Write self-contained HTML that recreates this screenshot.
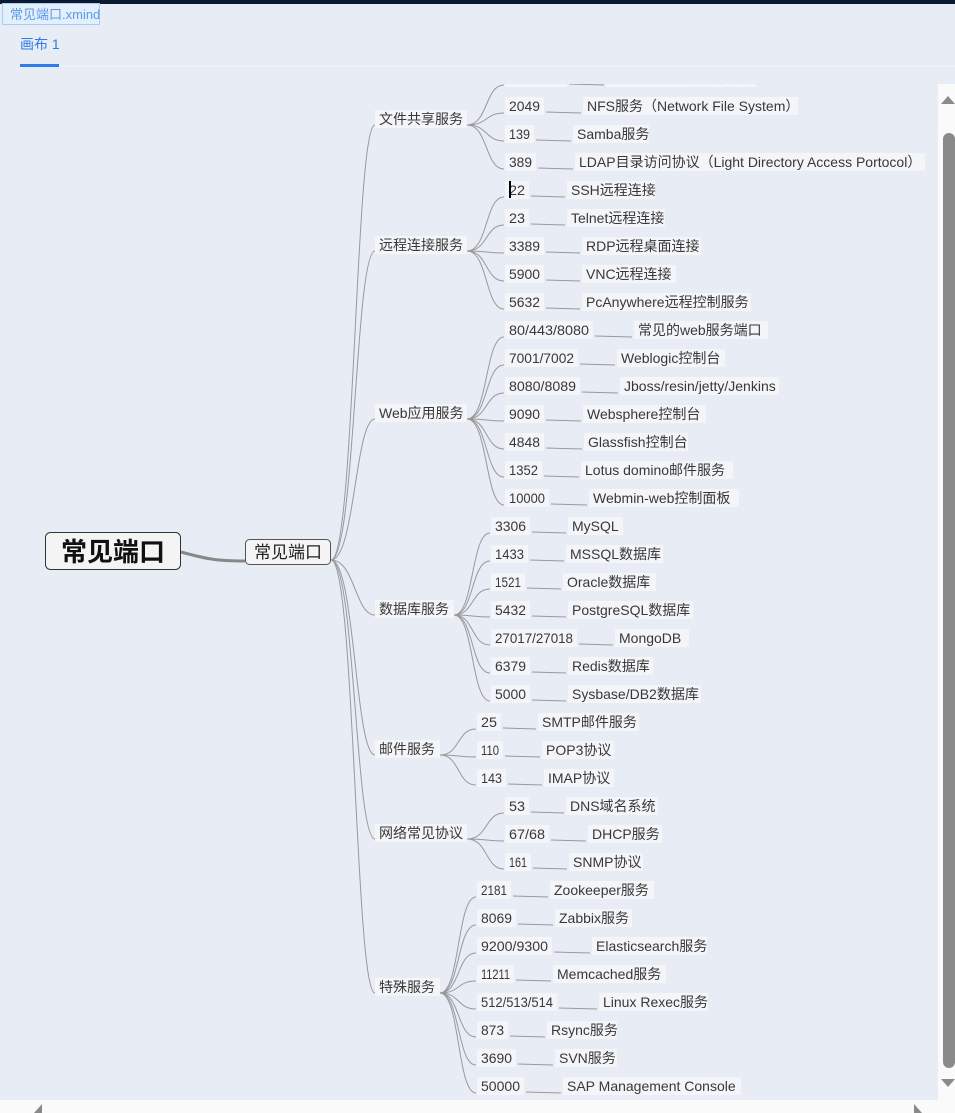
<!DOCTYPE html>
<html><head><meta charset="utf-8"><style>
html,body{margin:0;padding:0;width:955px;height:1113px;overflow:hidden;background:#e8ecf5;font-family:"Liberation Sans","Noto Sans CJK SC",sans-serif;}
</style></head><body>
<svg width="955" height="1113" xmlns="http://www.w3.org/2000/svg" style="position:absolute;left:0;top:0;font-family:'Liberation Sans','Noto Sans CJK SC',sans-serif">
<rect x="0" y="0" width="955" height="1113" fill="#e8ecf5"/>
<rect x="0" y="0" width="955" height="4" fill="#0b1a2e"/>
<rect x="2.5" y="3.5" width="97" height="21" fill="#e3effb" stroke="#a8cdf5"/>
<text x="10" y="19" font-size="13" fill="#5b9be6">常见端口.xmind</text>
<text x="20" y="49" font-size="14" fill="#2f7bea">画布 1</text>
<rect x="20" y="64" width="39" height="3" fill="#2f7bea"/>
<rect x="59" y="66" width="896" height="1" fill="#f2f3f6"/>
<svg x="0" y="84" width="938" height="1016" viewBox="0 84 938 1016" overflow="hidden">
<rect x="0" y="84" width="938" height="1016" fill="#e8ecf5"/>
<g fill="none" stroke="#999" stroke-width="1">
<path d="M181 552 C210 560,220 561,245 561" stroke="#888" stroke-width="3"/>
<path d="M331 560 C355 560,355 125,375 125"/>
<path d="M331 560 C355 560,355 251,375 251"/>
<path d="M331 560 C355 560,355 419,375 419"/>
<path d="M331 560 C355 560,355 615,375 615"/>
<path d="M331 560 C355 560,355 755,375 755"/>
<path d="M331 560 C355 560,355 839,375 839"/>
<path d="M331 560 C355 560,355 993,375 993"/>
<path d="M467 125 C488 125,485 85,504 85"/><path d="M467 125 C488 125,485 113,504 113"/><path d="M467 125 C488 125,485 141,504 141"/><path d="M467 125 C488 125,485 169,504 169"/>
<path d="M467 251 C488 251,485 197,504 197"/><path d="M467 251 C488 251,485 225,504 225"/><path d="M467 251 C488 251,485 253,504 253"/><path d="M467 251 C488 251,485 281,504 281"/><path d="M467 251 C488 251,485 309,504 309"/>
<path d="M467 419 C488 419,485 337,504 337"/><path d="M467 419 C488 419,485 365,504 365"/><path d="M467 419 C488 419,485 393,504 393"/><path d="M467 419 C488 419,485 421,504 421"/><path d="M467 419 C488 419,485 449,504 449"/><path d="M467 419 C488 419,485 477,504 477"/><path d="M467 419 C488 419,485 505,504 505"/>
<path d="M454 615 C474 615,471 533,490 533"/><path d="M454 615 C474 615,471 561,490 561"/><path d="M454 615 C474 615,471 589,490 589"/><path d="M454 615 C474 615,471 617,490 617"/><path d="M454 615 C474 615,471 645,490 645"/><path d="M454 615 C474 615,471 673,490 673"/><path d="M454 615 C474 615,471 701,490 701"/>
<path d="M440 755 C460 755,457 729,476 729"/><path d="M440 755 C460 755,457 757,476 757"/><path d="M440 755 C460 755,457 785,476 785"/>
<path d="M467 839 C488 839,485 813,504 813"/><path d="M467 839 C488 839,485 841,504 841"/><path d="M467 839 C488 839,485 869,504 869"/>
<path d="M440 993 C460 993,457 897,476 897"/><path d="M440 993 C460 993,457 925,476 925"/><path d="M440 993 C460 993,457 953,476 953"/><path d="M440 993 C460 993,457 981,476 981"/><path d="M440 993 C460 993,457 1009,476 1009"/><path d="M440 993 C460 993,457 1037,476 1037"/><path d="M440 993 C460 993,457 1065,476 1065"/><path d="M440 993 C460 993,457 1093,476 1093"/>
<path d="M569 84 L604 85M546 112 L581 113M536 140 L571 141M538 168 L573 169
M531 196 L565 197M531 224 L565 225M546 252 L580 253M546 280 L580 281M546 308 L580 309
M595 336 L632 337M580 364 L615 365M582 392 L618 393M546 420 L581 421M546 448 L582 449M544 476 L579 477M551 504 L587 505
M532 532 L566 533M530 560 L564 561M527 588 L561 589M532 616 L566 617M579 644 L613 645M532 672 L566 673M532 700 L566 701
M503 728 L536 729M505 756 L540 757M508 784 L542 785
M531 812 L564 813M551 840 L586 841M533 868 L567 869
M513 896 L548 897M518 924 L553 925M554 952 L590 953M516 980 L551 981M559 1008 L597 1009M510 1036 L545 1037M518 1064 L553 1065M526 1092 L561 1093"/>
</g>
<rect x="45.5" y="532.5" width="135" height="37" rx="5" fill="#f4f4f4" stroke="#333"/>
<text x="113" y="561" font-size="26" font-weight="bold" text-anchor="middle" fill="#111">常见端口</text>
<rect x="245.5" y="539.5" width="85" height="25" rx="4" fill="#f4f4f4" stroke="#555"/>
<text x="288" y="558" font-size="17" text-anchor="middle" fill="#222">常见端口</text>
<g fill="#f4f5f8">
<rect x="375" y="110" width="92" height="18"/><rect x="375" y="236" width="92" height="18"/><rect x="375" y="404" width="92" height="18"/><rect x="375" y="600" width="79" height="18"/><rect x="375" y="740" width="65" height="18"/><rect x="375" y="824" width="92" height="18"/><rect x="375" y="978" width="65" height="18"/>
<rect x="505" y="69" width="62" height="18"/><rect x="505" y="97" width="39" height="18"/><rect x="505" y="125" width="29" height="18"/><rect x="505" y="153" width="31" height="18"/>
<rect x="505" y="181" width="24" height="18"/><rect x="505" y="209" width="24" height="18"/><rect x="505" y="237" width="39" height="18"/><rect x="505" y="265" width="39" height="18"/><rect x="505" y="293" width="39" height="18"/>
<rect x="505" y="321" width="88" height="18"/><rect x="505" y="349" width="73" height="18"/><rect x="505" y="377" width="75" height="18"/><rect x="505" y="405" width="39" height="18"/><rect x="505" y="433" width="39" height="18"/><rect x="505" y="461" width="37" height="18"/><rect x="505" y="489" width="44" height="18"/>
<rect x="491" y="517" width="39" height="18"/><rect x="491" y="545" width="37" height="18"/><rect x="491" y="573" width="34" height="18"/><rect x="491" y="601" width="39" height="18"/><rect x="491" y="629" width="86" height="18"/><rect x="491" y="657" width="39" height="18"/><rect x="491" y="685" width="39" height="18"/>
<rect x="477" y="713" width="24" height="18"/><rect x="477" y="741" width="26" height="18"/><rect x="477" y="769" width="29" height="18"/>
<rect x="505" y="797" width="24" height="18"/><rect x="505" y="825" width="44" height="18"/><rect x="505" y="853" width="26" height="18"/>
<rect x="477" y="881" width="34" height="18"/><rect x="477" y="909" width="39" height="18"/><rect x="477" y="937" width="75" height="18"/><rect x="477" y="965" width="37" height="18"/><rect x="477" y="993" width="80" height="18"/><rect x="477" y="1021" width="31" height="18"/><rect x="477" y="1049" width="39" height="18"/><rect x="477" y="1077" width="47" height="18"/>
<rect x="606" y="69" width="150" height="18"/><rect x="583" y="97" width="215" height="18"/><rect x="573" y="125" width="76" height="18"/><rect x="575" y="153" width="350" height="18"/>
<rect x="567" y="181" width="88" height="18"/><rect x="567" y="209" width="98" height="18"/><rect x="582" y="237" width="119" height="18"/><rect x="582" y="265" width="94" height="18"/><rect x="582" y="293" width="169" height="18"/>
<rect x="634" y="321" width="134" height="18"/><rect x="617" y="349" width="108" height="18"/><rect x="620" y="377" width="159" height="18"/><rect x="583" y="405" width="123" height="18"/><rect x="584" y="433" width="104" height="18"/><rect x="581" y="461" width="152" height="18"/><rect x="589" y="489" width="150" height="18"/>
<rect x="568" y="517" width="55" height="18"/><rect x="566" y="545" width="97" height="18"/><rect x="563" y="573" width="93" height="18"/><rect x="568" y="601" width="125" height="18"/><rect x="615" y="629" width="74" height="18"/><rect x="568" y="657" width="85" height="18"/><rect x="568" y="685" width="133" height="18"/>
<rect x="538" y="713" width="101" height="18"/><rect x="542" y="741" width="72" height="18"/><rect x="544" y="769" width="70" height="18"/>
<rect x="566" y="797" width="92" height="18"/><rect x="588" y="825" width="74" height="18"/><rect x="569" y="853" width="74" height="18"/>
<rect x="550" y="881" width="104" height="18"/><rect x="555" y="909" width="77" height="18"/><rect x="592" y="937" width="115" height="18"/><rect x="553" y="965" width="113" height="18"/><rect x="599" y="993" width="109" height="18"/><rect x="547" y="1021" width="70" height="18"/><rect x="555" y="1049" width="62" height="18"/><rect x="563" y="1077" width="178" height="18"/>
</g>
<g font-size="14" fill="#383838">
<text x="379" y="124">文件共享服务</text><text x="379" y="250">远程连接服务</text><text x="379" y="418">Web应用服务</text><text x="379" y="614">数据库服务</text><text x="379" y="754">邮件服务</text><text x="379" y="838">网络常见协议</text><text x="379" y="992">特殊服务</text>
</g>
<g font-size="14" fill="#383838" lengthAdjust="spacingAndGlyphs">
<text x="509" y="83" textLength="54" lengthAdjust="spacingAndGlyphs">20/21/69</text><text x="610" y="83">FTP/TFTP文件传输协议</text>
<text x="509" y="111" textLength="31" lengthAdjust="spacingAndGlyphs">2049</text><text x="587" y="111">NFS服务（Network File System）</text>
<text x="509" y="139" textLength="21" lengthAdjust="spacingAndGlyphs">139</text><text x="577" y="139">Samba服务</text>
<text x="509" y="167" textLength="23" lengthAdjust="spacingAndGlyphs">389</text><text x="579" y="167">LDAP目录访问协议（Light Directory Access Portocol）</text>
<text x="509" y="195" textLength="16" lengthAdjust="spacingAndGlyphs">22</text><text x="571" y="195">SSH远程连接</text>
<text x="509" y="223" textLength="16" lengthAdjust="spacingAndGlyphs">23</text><text x="571" y="223">Telnet远程连接</text>
<text x="509" y="251" textLength="31" lengthAdjust="spacingAndGlyphs">3389</text><text x="586" y="251">RDP远程桌面连接</text>
<text x="509" y="279" textLength="31" lengthAdjust="spacingAndGlyphs">5900</text><text x="586" y="279">VNC远程连接</text>
<text x="509" y="307" textLength="31" lengthAdjust="spacingAndGlyphs">5632</text><text x="586" y="307">PcAnywhere远程控制服务</text>
<text x="509" y="335" textLength="80" lengthAdjust="spacingAndGlyphs">80/443/8080</text><text x="638" y="335">常见的web服务端口</text>
<text x="509" y="363" textLength="65" lengthAdjust="spacingAndGlyphs">7001/7002</text><text x="621" y="363">Weblogic控制台</text>
<text x="509" y="391" textLength="67" lengthAdjust="spacingAndGlyphs">8080/8089</text><text x="624" y="391">Jboss/resin/jetty/Jenkins</text>
<text x="509" y="419" textLength="31" lengthAdjust="spacingAndGlyphs">9090</text><text x="587" y="419">Websphere控制台</text>
<text x="509" y="447" textLength="31" lengthAdjust="spacingAndGlyphs">4848</text><text x="588" y="447">Glassfish控制台</text>
<text x="509" y="475" textLength="29" lengthAdjust="spacingAndGlyphs">1352</text><text x="585" y="475">Lotus domino邮件服务</text>
<text x="509" y="503" textLength="36" lengthAdjust="spacingAndGlyphs">10000</text><text x="593" y="503">Webmin-web控制面板</text>
<text x="495" y="531" textLength="31" lengthAdjust="spacingAndGlyphs">3306</text><text x="572" y="531">MySQL</text>
<text x="495" y="559" textLength="29" lengthAdjust="spacingAndGlyphs">1433</text><text x="570" y="559">MSSQL数据库</text>
<text x="495" y="587" textLength="26" lengthAdjust="spacingAndGlyphs">1521</text><text x="567" y="587">Oracle数据库</text>
<text x="495" y="615" textLength="31" lengthAdjust="spacingAndGlyphs">5432</text><text x="572" y="615">PostgreSQL数据库</text>
<text x="495" y="643" textLength="78" lengthAdjust="spacingAndGlyphs">27017/27018</text><text x="619" y="643">MongoDB</text>
<text x="495" y="671" textLength="31" lengthAdjust="spacingAndGlyphs">6379</text><text x="572" y="671">Redis数据库</text>
<text x="495" y="699" textLength="31" lengthAdjust="spacingAndGlyphs">5000</text><text x="572" y="699">Sysbase/DB2数据库</text>
<text x="481" y="727" textLength="16" lengthAdjust="spacingAndGlyphs">25</text><text x="542" y="727">SMTP邮件服务</text>
<text x="481" y="755" textLength="18" lengthAdjust="spacingAndGlyphs">110</text><text x="546" y="755">POP3协议</text>
<text x="481" y="783" textLength="21" lengthAdjust="spacingAndGlyphs">143</text><text x="548" y="783">IMAP协议</text>
<text x="509" y="811" textLength="16" lengthAdjust="spacingAndGlyphs">53</text><text x="570" y="811">DNS域名系统</text>
<text x="509" y="839" textLength="36" lengthAdjust="spacingAndGlyphs">67/68</text><text x="592" y="839">DHCP服务</text>
<text x="509" y="867" textLength="18" lengthAdjust="spacingAndGlyphs">161</text><text x="573" y="867">SNMP协议</text>
<text x="481" y="895" textLength="26" lengthAdjust="spacingAndGlyphs">2181</text><text x="554" y="895">Zookeeper服务</text>
<text x="481" y="923" textLength="31" lengthAdjust="spacingAndGlyphs">8069</text><text x="559" y="923">Zabbix服务</text>
<text x="481" y="951" textLength="67" lengthAdjust="spacingAndGlyphs">9200/9300</text><text x="596" y="951">Elasticsearch服务</text>
<text x="481" y="979" textLength="29" lengthAdjust="spacingAndGlyphs">11211</text><text x="557" y="979">Memcached服务</text>
<text x="481" y="1007" textLength="72" lengthAdjust="spacingAndGlyphs">512/513/514</text><text x="603" y="1007">Linux Rexec服务</text>
<text x="481" y="1035" textLength="23" lengthAdjust="spacingAndGlyphs">873</text><text x="551" y="1035">Rsync服务</text>
<text x="481" y="1063" textLength="31" lengthAdjust="spacingAndGlyphs">3690</text><text x="559" y="1063">SVN服务</text>
<text x="481" y="1091" textLength="39" lengthAdjust="spacingAndGlyphs">50000</text><text x="567" y="1091">SAP Management Console</text>
</g>
<rect x="509" y="181" width="2" height="17" fill="#000"/>
</svg>
<rect x="938" y="84" width="17" height="1016" fill="#fafafa"/>
<rect x="943" y="133" width="12" height="935" rx="6" fill="#8a8a8a"/>
<polygon points="941,104 955,104 948,96" fill="#8a8a8a"/>
<polygon points="941,1079 955,1079 948,1087" fill="#8a8a8a"/>
<rect x="0" y="1100" width="955" height="13" fill="#fafafa"/>
<polygon points="42,1104 42,1113 34,1113" fill="#8a8a8a"/>
<polygon points="914,1104 914,1113 922,1113" fill="#8a8a8a"/>
</svg>
</body></html>
